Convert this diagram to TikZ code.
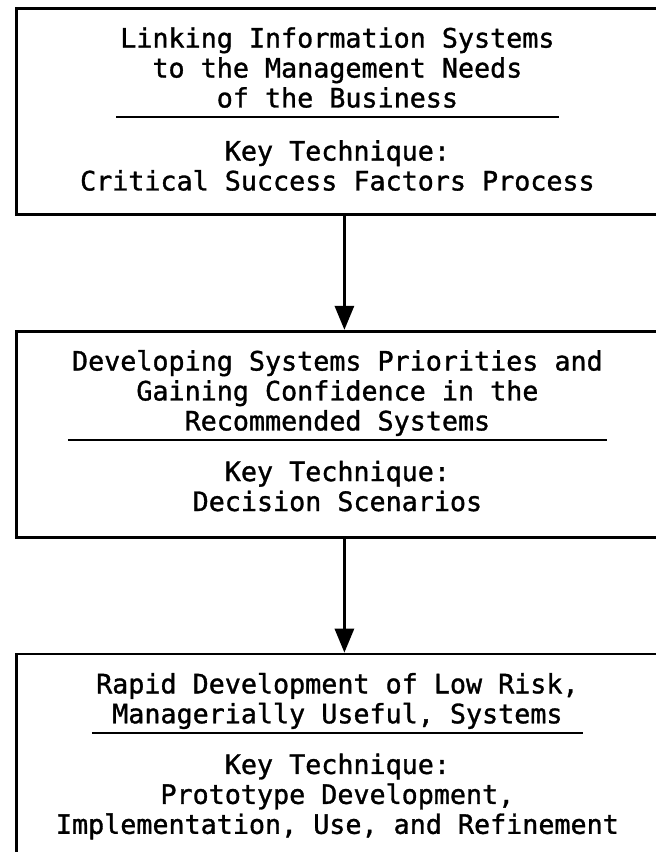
\documentclass[tikz,border=0pt]{standalone}
\usepackage{fontspec}
\newfontfamily\printfont[FakeBold=1.2]{DejaVu Sans Mono}
\usepackage{tikz}
\usetikzlibrary{
  arrows.meta,
  positioning
}
\definecolor{ink}{RGB}{0, 0, 0}
\tikzset{
  stagebox/.style={
    draw=ink, fill=white, line width=2pt,
    minimum width=16.4cm, minimum height=5.15cm,
    inner sep=0pt
  },
  headtext/.style={
    align=center, inner xsep=0.1cm, inner ysep=0pt,
    font=\printfont\fontsize{19pt}{21.3pt}\selectfont,
    execute at end node=\strut
  },
  keytext/.style={
    align=center, inner sep=0pt,
    font=\printfont\fontsize{19pt}{21.3pt}\selectfont
  },
  headrule/.style={draw=ink, line width=1.4pt},
  flow/.style={-{Triangle[length=0.6cm, width=0.48cm]}, line width=1.8pt, ink}
}

\begin{document}
\begin{tikzpicture}

\clip (0,0) rectangle (16.4,-21.3);

% ── Stage frames ──────────────────────────────────────────────────────────────
\node[stagebox, anchor=north west] at (0.375,-0.175) (linkbox) {};
\node[stagebox, below=2.85cm of linkbox] (prioritybox) {};
\node[stagebox, minimum height=5.3cm, below=2.85cm of prioritybox] (protobox) {};

% ── Stage 1 ───────────────────────────────────────────────────────────────────
\node[headtext, below=0.5cm of linkbox.north, xshift=-0.175cm] (linkhead) {
  Linking Information Systems\\
  to the Management Needs\\
  of the Business
};
\draw[headrule] (linkhead.south west) -- (linkhead.south east);
\node[keytext, below=0.58cm of linkhead] (linkkey) {
  Key Technique:\\
  Critical Success Factors Process
};

% ── Stage 2 ───────────────────────────────────────────────────────────────────
\node[headtext, below=0.5cm of prioritybox.north, xshift=-0.175cm] (priorityhead) {
  Developing Systems Priorities and\\
  Gaining Confidence in the\\
  Recommended Systems
};
\draw[headrule] (priorityhead.south west) -- (priorityhead.south east);
\node[keytext, below=0.52cm of priorityhead] (prioritykey) {
  Key Technique:\\
  Decision Scenarios
};

% ── Stage 3 ───────────────────────────────────────────────────────────────────
\node[headtext, below=0.5cm of protobox.north, xshift=-0.175cm] (protohead) {
  Rapid Development of Low Risk,\\
  Managerially Useful, Systems
};
\draw[headrule] (protohead.south west) -- (protohead.south east);
\node[keytext, below=0.52cm of protohead] (protokey) {
  Key Technique:\\
  Prototype Development,\\
  Implementation, Use, and Refinement
};

% ── Flow arrows ───────────────────────────────────────────────────────────────
\draw[flow] (linkbox.south)     -- (prioritybox.north);
\draw[flow] (prioritybox.south) -- (protobox.north);

\end{tikzpicture}
\end{document}
